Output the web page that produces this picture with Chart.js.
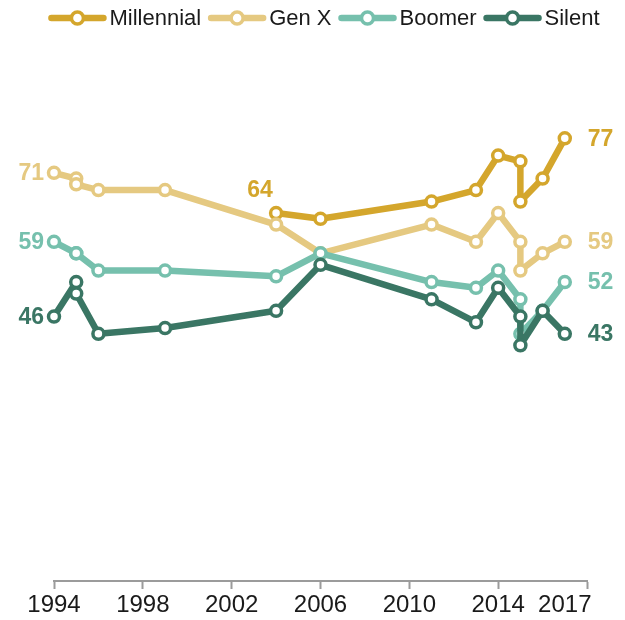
<!DOCTYPE html>
<html>
<head>
<meta charset="utf-8">
<script src="https://cdn.jsdelivr.net/npm/chart.js@4.4.1/dist/chart.umd.min.js"></script>
<style>
  html, body { margin: 0; padding: 0; background: #fff; }
  #wrap { width: 625px; height: 620px; }
</style>
</head>
<body>
<div id="wrap"><canvas id="genChart" width="625" height="620"></canvas></div>
<script>
// survey years (two surveys in 1995 and in 2015)
const years = [1994, 1995, 1995, 1996, 1999, 2004, 2006, 2011, 2013, 2014, 2015, 2015, 2016, 2017]
const millennial = [null, null, null, null, null, 64, 63, 66, 68, 74, 73, 66, 70, 77]
const genX = [71, 70, 69, 68, 68, 62, 57, 62, 59, 64, 59, 54, 57, 59]
const boomer = [59, 57, 57, 54, 54, 53, 57, 52, 51, 54, 49, 43, 47, 52]
const silent = [46, 52, 50, 43, 44, 47, 55, 49, 45, 51, 46, 41, 47, 43]

const seriesNames = ["Millennial", "Gen X", "Boomer", "Silent"]
const seriesColors = ["#d4a62c", "#e5c981", "#76c0ad", "#3a7664"]
const tickYears = [1994, 1998, 2002, 2006, 2010, 2014, 2017, 2018]

const FONT = "'Liberation Sans', Arial, sans-serif"

function toPoints(values) {
  const pts = []
  values.forEach((v, i) => {
    if (v !== null) pts.push({ x: years[i], y: v })
  })
  return pts
}

// line + circle legend drawn on the canvas
const lineLegend = {
  id: "lineLegend",
  afterDraw(chart) {
    const ctx = chart.ctx
    const symW = 58
    const cy = 18
    ctx.save()
    ctx.font = "22px " + FONT
    const widths = seriesNames.map((n) => ctx.measureText(n).width)
    const total = widths.reduce((a, b) => a + b, 0) + seriesNames.length * (symW + 3) + (seriesNames.length - 1) * 7
    let x = 324 - total / 2
    seriesNames.forEach((name, i) => {
      ctx.strokeStyle = seriesColors[i]
      ctx.lineWidth = 6.5
      ctx.lineCap = "round"
      ctx.beginPath()
      ctx.moveTo(x + 3, cy)
      ctx.lineTo(x + symW - 3, cy)
      ctx.stroke()
      ctx.beginPath()
      ctx.arc(x + symW / 2, cy, 6, 0, Math.PI * 2)
      ctx.fillStyle = "#fff"
      ctx.fill()
      ctx.lineWidth = 3.5
      ctx.stroke()
      ctx.fillStyle = "#1a1a1a"
      ctx.textAlign = "left"
      ctx.textBaseline = "middle"
      ctx.fillText(name, x + symW + 3, cy + 1)
      x += symW + 3 + widths[i] + 7
    })
    ctx.restore()
  }
}

// first / last value labels
const endLabels = {
  id: "endLabels",
  afterDatasetsDraw(chart) {
    const ctx = chart.ctx
    ctx.save()
    ctx.font = "bold 23px " + FONT
    ctx.textBaseline = "middle"
    chart.data.datasets.forEach((ds, i) => {
      const meta = chart.getDatasetMeta(i)
      const first = meta.data[0]
      const last = meta.data[meta.data.length - 1]
      ctx.fillStyle = ds.borderColor
      if (ds.label === "Millennial") {
        ctx.textAlign = "center"
        ctx.fillText(ds.data[0].y, first.x - 16, first.y - 22)
      } else {
        ctx.textAlign = "right"
        ctx.fillText(ds.data[0].y, first.x - 10, first.y + 1)
      }
      ctx.textAlign = "left"
      ctx.fillText(ds.data[ds.data.length - 1].y, last.x + 23, last.y + 1)
    })
    ctx.restore()
  }
}

const allSeries = [millennial, genX, boomer, silent]
const datasets = allSeries.map((vals, i) => ({
  label: seriesNames[i],
  data: toPoints(vals),
  borderColor: seriesColors[i],
  backgroundColor: "#fff",
  borderWidth: 6.5,
  borderJoinStyle: "round",
  pointRadius: 5.5,
  pointBorderWidth: 3.5,
  pointBackgroundColor: "#fff",
  pointBorderColor: seriesColors[i],
  tension: 0,
  clip: false,
  order: 3 - i // silent drawn on top
}))

new Chart(document.getElementById("genChart"), {
  type: "line",
  data: { datasets: datasets },
  options: {
    responsive: false,
    animation: false,
    devicePixelRatio: 1,
    layout: { padding: { top: 40, left: 54, right: 38, bottom: 0 } },
    plugins: {
      legend: { display: false },
      tooltip: { enabled: false }
    },
    scales: {
      x: {
        type: "linear",
        min: 1994,
        max: 2018,
        afterBuildTicks: (scale) => {
          scale.ticks = tickYears.map((v) => ({ value: v }))
        },
        afterFit: (scale) => {
          scale.height = 39
        },
        ticks: {
          autoSkip: false,
          maxRotation: 0,
          padding: 2,
          color: "#1a1a1a",
          font: { family: FONT, size: 24 },
          callback: (v) => (v === 2018 ? "" : String(v))
        },
        grid: {
          drawOnChartArea: false,
          drawTicks: true,
          tickLength: 8,
          tickWidth: 2,
          tickColor: (ctx) => (ctx.tick && ctx.tick.value === 2017 ? "rgba(0,0,0,0)" : "#9b9b9b")
        },
        border: { display: true, color: "#9b9b9b", width: 2 }
      },
      y: {
        display: false,
        min: 0,
        max: 94.1
      }
    }
  },
  plugins: [endLabels, lineLegend]
})
</script>
</body>
</html>
